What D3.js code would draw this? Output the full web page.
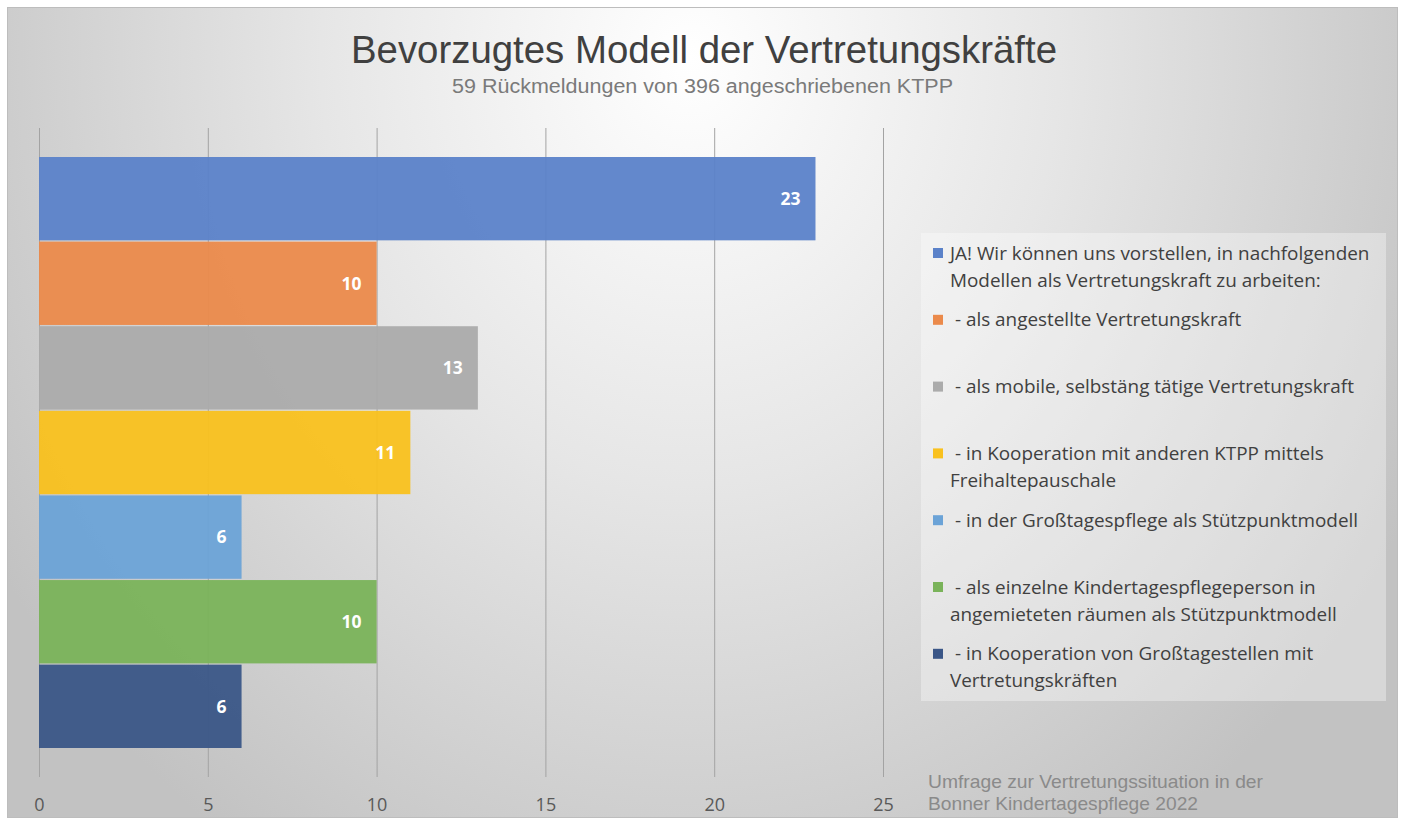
<!DOCTYPE html>
<html>
<head>
<meta charset="utf-8">
<script src="https://cdn.jsdelivr.net/npm/d3@7"></script>
<style>
  body { margin: 0; background: #fff; }
</style>
</head>
<body>
<script>
var w = 1405;
var h = 825;

// data
var categories = [
    "JA! Wir können uns vorstellen, in nachfolgenden\nModellen als Vertretungskraft zu arbeiten:",
    " - als angestellte Vertretungskraft",
    " - als mobile, selbstäng tätige Vertretungskraft",
    " - in Kooperation mit anderen KTPP mittels\nFreihaltepauschale",
    " - in der Großtagespflege als Stützpunktmodell",
    " - als einzelne Kindertagespflegeperson in\nangemieteten räumen als Stützpunktmodell",
    " - in Kooperation von Großtagestellen mit\nVertretungskräften"
];
var values = [23, 10, 13, 11, 6, 10, 6];
var colors = ["#5b82c9", "#eb8a4b", "#ababab", "#f9c11e", "#6ba3d7", "#7ab35a", "#3a5687"];
var ticks = [0, 5, 10, 15, 20, 25];

var title = "Bevorzugtes Modell der Vertretungskräfte";
var subtitle = "59 Rückmeldungen von 396 angeschriebenen KTPP";
var note = ["Umfrage zur Vertretungssituation in der", "Bonner Kindertagespflege 2022"];
var noteWidths = [335, 270];

var arial = "'Liberation Sans', Arial, sans-serif";
var body = "'Open Sans', 'Noto Sans', sans-serif";

var svg = d3.select("body")
    .append("svg")
    .attr("width", w)
    .attr("height", h);

var defs = svg.append("defs");
var grad = defs.append("radialGradient")
    .attr("id", "bg")
    .attr("gradientUnits", "userSpaceOnUse")
    .attr("cx", 690).attr("cy", 60)
    .attr("r", 820)
    .attr("gradientTransform", "translate(690,60) scale(1,1.15) translate(-690,-60)");
grad.append("stop").attr("offset", "0").attr("stop-color", "#ffffff");
grad.append("stop").attr("offset", "0.45").attr("stop-color", "#e6e6e6");
grad.append("stop").attr("offset", "1").attr("stop-color", "#c2c2c2");

svg.append("rect")
    .attr("x", 7.5).attr("y", 7.5)
    .attr("width", 1390).attr("height", 810)
    .attr("fill", "url(#bg)")
    .attr("stroke", "#bdbdbd");

// title
svg.append("text")
    .attr("x", 351).attr("y", 63)
    .attr("font-family", arial)
    .attr("font-size", 39)
    .attr("textLength", 706)
    .attr("lengthAdjust", "spacingAndGlyphs")
    .attr("fill", "#404040")
    .text(title);

svg.append("text")
    .attr("x", 452).attr("y", 93)
    .attr("font-family", arial)
    .attr("font-size", 20)
    .attr("textLength", 501)
    .attr("lengthAdjust", "spacingAndGlyphs")
    .attr("fill", "#7a7a7a")
    .text(subtitle);

// scales
var xScale = d3.scaleLinear()
    .domain([0, 25])
    .range([39, 883]);

var yScale = d3.scaleBand()
    .domain(d3.range(values.length))
    .range([157, 748])
    .paddingInner(0.015);

// gridlines
svg.append("g")
    .selectAll("line")
    .data(ticks)
    .enter()
    .append("line")
    .attr("x1", d => xScale(d) + 0.5)
    .attr("x2", d => xScale(d) + 0.5)
    .attr("y1", 128)
    .attr("y2", 777)
    .attr("stroke", "#a3a3a3")
    .attr("stroke-width", 1);

// bars
svg.append("g")
    .selectAll("rect")
    .data(values)
    .enter()
    .append("rect")
    .attr("x", xScale(0))
    .attr("y", (d, i) => yScale(i))
    .attr("width", d => xScale(d) - xScale(0))
    .attr("height", yScale.bandwidth())
    .attr("fill", (d, i) => colors[i])
    .attr("fill-opacity", 0.95);

// value labels
svg.append("g")
    .selectAll("text")
    .data(values)
    .enter()
    .append("text")
    .attr("x", d => xScale(d) - 15)
    .attr("y", (d, i) => yScale(i) + yScale.bandwidth() / 2)
    .attr("dy", "0.36em")
    .attr("text-anchor", "end")
    .attr("font-family", body)
    .attr("font-weight", "bold")
    .attr("font-size", 17.5)
    .attr("fill", "#ffffff")
    .text(d => d);

// x axis labels
var xAxis = d3.axisBottom(xScale)
    .tickValues(ticks)
    .tickSize(0)
    .tickPadding(0);

svg.append("g")
    .attr("transform", "translate(0,811)")
    .call(xAxis)
    .call(g => g.select(".domain").remove())
    .selectAll("text")
    .attr("dy", 0)
    .attr("font-family", body)
    .attr("font-size", 18)
    .attr("fill", "#595959");

// note
svg.append("g")
    .selectAll("text")
    .data(note)
    .enter()
    .append("text")
    .attr("x", 928)
    .attr("y", (d, i) => 788 + i * 22)
    .attr("font-family", arial)
    .attr("font-size", 18.5)
    .attr("textLength", (d, i) => noteWidths[i])
    .attr("lengthAdjust", "spacingAndGlyphs")
    .attr("fill", "#8a8a8a")
    .text(d => d);

// legend
svg.append("rect")
    .attr("x", 921).attr("y", 233)
    .attr("width", 465).attr("height", 468)
    .attr("fill", "#ffffff")
    .attr("fill-opacity", 0.35);

var legend = svg.append("g")
    .selectAll("g")
    .data(categories)
    .enter()
    .append("g")
    .attr("transform", (d, i) => "translate(0," + (253 + i * 66.8) + ")");

legend.append("rect")
    .attr("x", 933)
    .attr("y", -5)
    .attr("width", 10)
    .attr("height", 10)
    .attr("fill", (d, i) => colors[i]);

legend.append("text")
    .attr("font-family", body)
    .attr("font-size", 18.9)
    .attr("fill", "#404040")
    .attr("xml:space", "preserve")
    .selectAll("tspan")
    .data(d => d.split("\n"))
    .enter()
    .append("tspan")
    .attr("x", 950)
    .attr("y", (d, i) => i * 27)
    .attr("dy", "0.35em")
    .text(d => d);
</script>
</body>
</html>
